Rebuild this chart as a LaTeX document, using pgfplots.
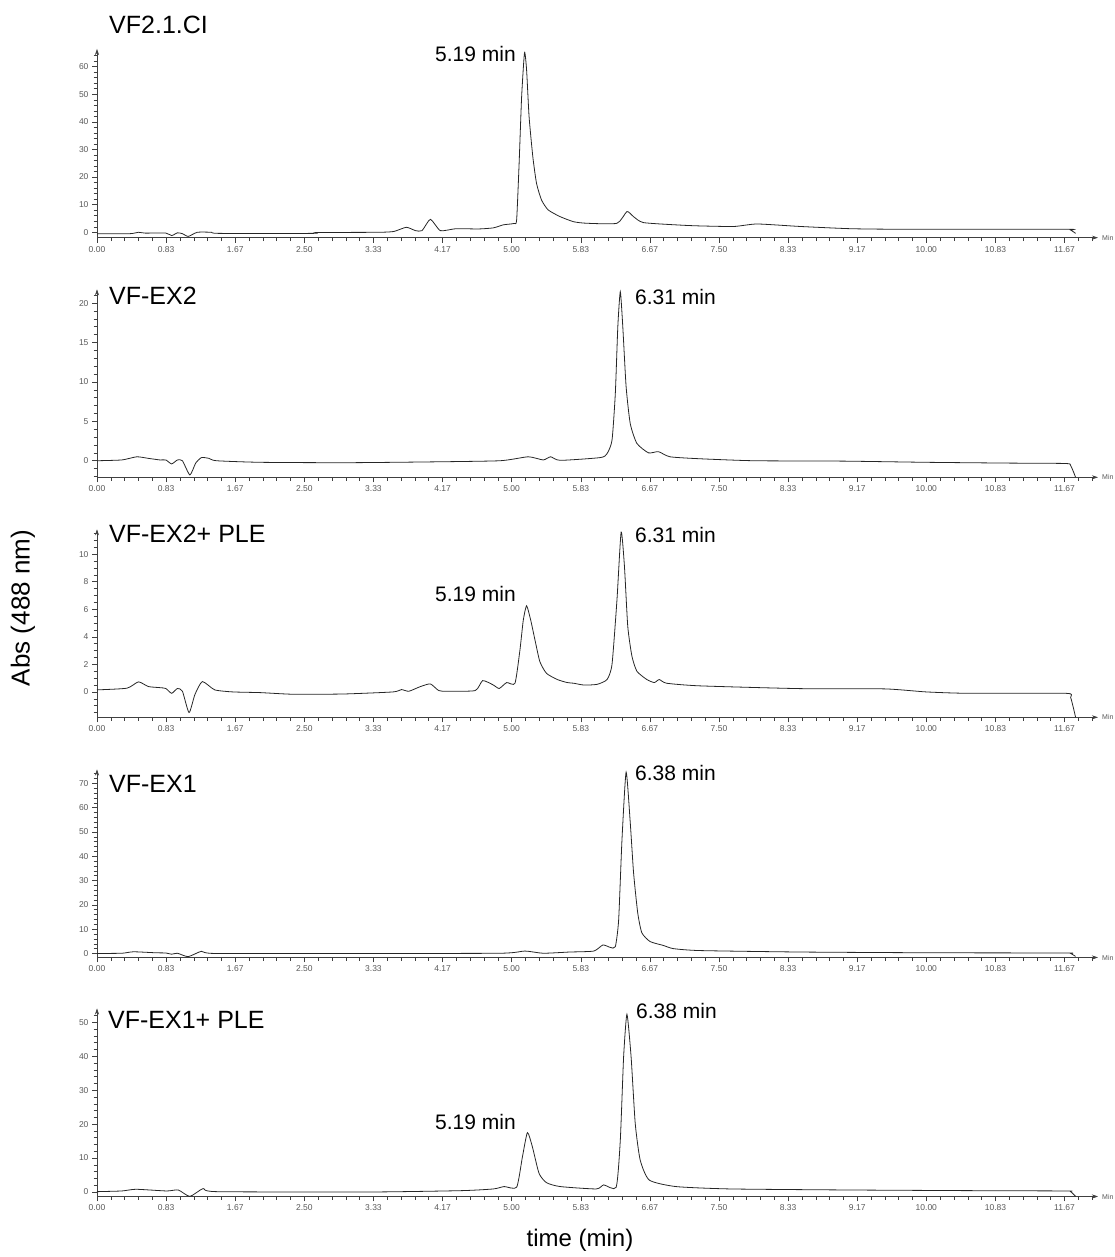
\documentclass[border=0pt]{standalone}
\usepackage{pgfplots}
\pgfplotsset{compat=1.18}
\usepackage{fontspec}
\setmainfont{Liberation Sans}
\usetikzlibrary{arrows.meta}

\tikzset{minlabel/.style={anchor=west, inner sep=0pt, xshift=4pt, font=\fontsize{7}{8}\selectfont, text=black!65}}
\pgfplotsset{
 panel/.style={
  scale only axis, width=1001pt, height=188pt, anchor=south west,
  xmin=0, xmax=12.07, clip=false,
  axis lines=left,
  axis line style={black!75, line width=0.6pt, -{Stealth[length=6pt,width=4pt]}},
  tick align=outside,
  major tick length=5pt, minor tick length=3.5pt,
  every tick/.style={black!75, line width=0.5pt},
  xtick={0,0.83333,1.66667,2.5,3.33333,4.16667,5,5.83333,6.66667,7.5,8.33333,9.16667,10,10.83333,11.66667},
  xticklabels={0.00,0.83,1.67,2.50,3.33,4.17,5.00,5.83,6.67,7.50,8.33,9.17,10.00,10.83,11.67},
  minor xtick={0.16667,0.33333,0.5,0.66667,1,1.16667,1.33333,1.5,1.83333,2,2.16667,2.33333,2.66667,2.83333,3,3.16667,3.5,3.66667,3.83333,4,4.33333,4.5,4.66667,4.83333,5.16667,5.33333,5.5,5.66667,6,6.16667,6.33333,6.5,6.83333,7,7.16667,7.33333,7.66667,7.83333,8,8.16667,8.5,8.66667,8.83333,9,9.33333,9.5,9.66667,9.83333,10.16667,10.33333,10.5,10.66667,11,11.16667,11.33333,11.5,11.83333,12},
  tick label style={font=\fontsize{8.5}{9}\selectfont, text=black!65},
  /pgf/number format/assume math mode=true,
 },
 trace/.style={black!85, line width=0.8pt, smooth, tension=0.35},
}

\begin{document}
\begin{tikzpicture}
\path[use as bounding box] (0pt,0pt) rectangle (1115pt,1257pt);

% Panel 1
\begin{axis}[panel, at={(97pt,1019.3pt)}, height=188.7pt,
  ymin=-1.96, ymax=66.4, ytick={0,10,...,60}, minor ytick={2,4,6,8,12,14,16,18,22,24,26,28,32,34,36,38,42,44,46,48,52,54,56,58,62,64}]
\addplot[trace] table {
0 -0.5
0.40 -0.5
0.50 0.0
0.58 -0.3
0.83 -0.3
0.90 -1.2
0.97 -0.2
1.03 -0.5
1.10 -1.5
1.21 0.0
1.38 0.0
1.47 -0.4
2.60 -0.4
2.65 -0.1
3.40 0.0
3.58 0.3
3.73 1.8
3.84 0.6
3.92 0.6
4.02 4.7
4.14 0.6
4.33 1.3
4.60 1.2
4.78 1.6
4.90 2.7
5.03 3.2
5.06 4.5
5.09 25
5.12 49
5.155 65.1
5.18 58.8
5.21 41.9
5.255 27.4
5.30 17.7
5.36 11.7
5.44 8.1
5.585 5.65
5.75 3.8
5.91 3.26
6.27 3.26
6.39 7.5
6.47 5.65
6.59 3.5
7.03 2.6
7.27 2.3
7.68 2.1
7.96 3.0
8.48 2.1
9.08 1.3
9.69 1.1
11.68 1.1
11.74 0.8
11.80 -0.4
};
\node[minlabel] at (rel axis cs:1,0) {Min};
\end{axis}

% Panel 2
\begin{axis}[panel, at={(97pt,779.7pt)},
  ymin=-2.1, ymax=21.75, ytick={0,5,...,20}, minor ytick={-2,-1,1,2,3,4,6,7,8,9,11,12,13,14,16,17,18,19,21}]
\addplot[trace] table {
0 0
0.30 0.1
0.48 0.5
0.62 0.3
0.76 0.1
0.83 0.1
0.90 -0.4
0.97 0.1
1.03 0.0
1.12 -1.8
1.19 -0.3
1.26 0.4
1.35 0.3
1.44 0.0
1.97 -0.2
3.0 -0.25
4.0 -0.15
4.86 0.0
5.2 0.5
5.38 0.1
5.47 0.5
5.585 0.05
6.07 0.4
6.15 0.9
6.21 2.6
6.25 8.55
6.28 17.0
6.31 21.45
6.34 17.0
6.38 9.4
6.43 4.7
6.51 2.2
6.65 1.0
6.77 1.15
6.91 0.5
7.27 0.25
7.92 0.0
9.0 -0.05
10.0 -0.2
11.0 -0.3
11.68 -0.35
11.74 -0.6
11.80 -2.1
};
\node[minlabel] at (rel axis cs:1,0) {Min};
\end{axis}

% Panel 3
\begin{axis}[panel, at={(97pt,539.7pt)},
  ymin=-1.84, ymax=11.8, ytick={0,2,...,10}, minor ytick={-1.5,-1,-0.5,0.5,1,1.5,2.5,3,3.5,4.5,5,5.5,6.5,7,7.5,8.5,9,9.5,10.5,11,11.5}]
\addplot[trace] table {
0 0.15
0.36 0.27
0.50 0.73
0.62 0.39
0.76 0.31
0.83 0.25
0.90 -0.1
0.97 0.25
1.03 0.05
1.11 -1.5
1.18 -0.2
1.27 0.75
1.42 0.15
1.64 0.0
1.97 -0.05
2.37 -0.17
2.97 -0.15
3.57 0.0
3.67 0.17
3.76 0.05
3.90 0.39
4.02 0.58
4.12 0.1
4.22 0.05
4.56 0.1
4.65 0.82
4.78 0.5
4.85 0.25
4.94 0.68
5.04 0.63
5.10 3.05
5.14 5.2
5.18 6.25
5.23 5.2
5.28 3.8
5.34 2.2
5.42 1.35
5.55 0.9
5.67 0.68
5.75 0.63
5.87 0.5
6.03 0.55
6.15 0.9
6.21 2.0
6.27 6.7
6.32 11.6
6.36 9.1
6.40 4.75
6.45 2.6
6.51 1.5
6.63 0.9
6.72 0.68
6.78 0.9
6.87 0.63
7.27 0.44
8.48 0.24
9.5 0.22
10.0 0.0
10.5 -0.1
11.68 -0.1
11.74 -0.4
11.80 -1.84
};
\node[minlabel] at (rel axis cs:1,0) {Min};
\end{axis}

% Panel 4
\begin{axis}[panel, at={(97pt,299.5pt)},
  ymin=-1.65, ymax=75.7, ytick={0,10,...,70}, minor ytick={2,4,6,8,12,14,16,18,22,24,26,28,32,34,36,38,42,44,46,48,52,54,56,58,62,64,66,68,72,74}]
\addplot[trace] table {
0 0
0.30 0.1
0.44 0.7
0.70 0.3
0.83 0.2
0.90 -0.3
0.97 0.1
1.10 -1.3
1.26 0.9
1.42 0.0
3.0 0.0
4.86 0.1
5.16 1.0
5.38 0.1
5.70 0.6
5.99 1.0
6.10 3.5
6.19 2.5
6.25 2.8
6.29 13.8
6.33 46.7
6.38 74.6
6.43 53.8
6.47 33.2
6.52 16.7
6.57 8.5
6.67 4.9
6.83 3.3
6.95 2.0
7.27 1.2
8.48 0.6
10.0 0.3
11.68 0.2
11.74 0.0
11.80 -1.2
};
\node[minlabel] at (rel axis cs:1,0) {Min};
\end{axis}

% Panel 5
\begin{axis}[panel, at={(97pt,60.5pt)},
  ymin=-1.33, ymax=54.1, ytick={0,10,...,50}, minor ytick={2,4,6,8,12,14,16,18,22,24,26,28,32,34,36,38,42,44,46,48,52}]
\addplot[trace] table {
0 0.1
0.30 0.3
0.47 0.8
0.84 0.3
0.98 0.6
1.12 -1.3
1.28 1.0
1.44 0.1
3.3 0.0
4.4 0.4
4.78 0.9
4.91 1.6
5.06 1.4
5.13 10.4
5.19 17.5
5.25 13.3
5.33 5.5
5.42 2.75
5.585 1.6
6.02 0.9
6.11 2.1
6.26 1.4
6.31 15.3
6.35 39.9
6.39 52.4
6.44 39.9
6.49 20.2
6.55 9.4
6.66 3.5
6.98 1.6
7.63 0.9
9.0 0.6
10.5 0.4
11.68 0.3
11.74 0.1
11.80 -1.3
};
\node[minlabel] at (rel axis cs:1,0) {Min};
\end{axis}

% Titles
\begin{scope}[every node/.style={anchor=base west, inner sep=0pt, font=\fontsize{25}{30}\selectfont}]
\node at (109pt,1223pt) {VF2.1.CI};
\node at (109pt,952pt) {VF-EX2};
\node at (109pt,714.3pt) {VF-EX2+ PLE};
\node at (109pt,464.3pt) {VF-EX1};
\node at (108pt,228.7pt) {VF-EX1+ PLE};
\end{scope}
% Peak labels
\begin{scope}[every node/.style={anchor=base west, inner sep=0pt, font=\fontsize{21}{25}\selectfont}]
\node at (435pt,1195.3pt) {5.19 min};
\node at (635pt,952pt) {6.31 min};
\node at (435pt,655.3pt) {5.19 min};
\node at (635pt,714.7pt) {6.31 min};
\node at (635pt,476.3pt) {6.38 min};
\node at (636pt,238.7pt) {6.38 min};
\node at (435pt,127pt) {5.19 min};
\end{scope}

\node[rotate=90, font=\fontsize{26}{30}\selectfont] at (23pt,649pt) {Abs (488 nm)};
\node[anchor=base, inner sep=0pt, font=\fontsize{24}{28}\selectfont] at (580pt,10pt) {time (min)};
\end{tikzpicture}
\end{document}
